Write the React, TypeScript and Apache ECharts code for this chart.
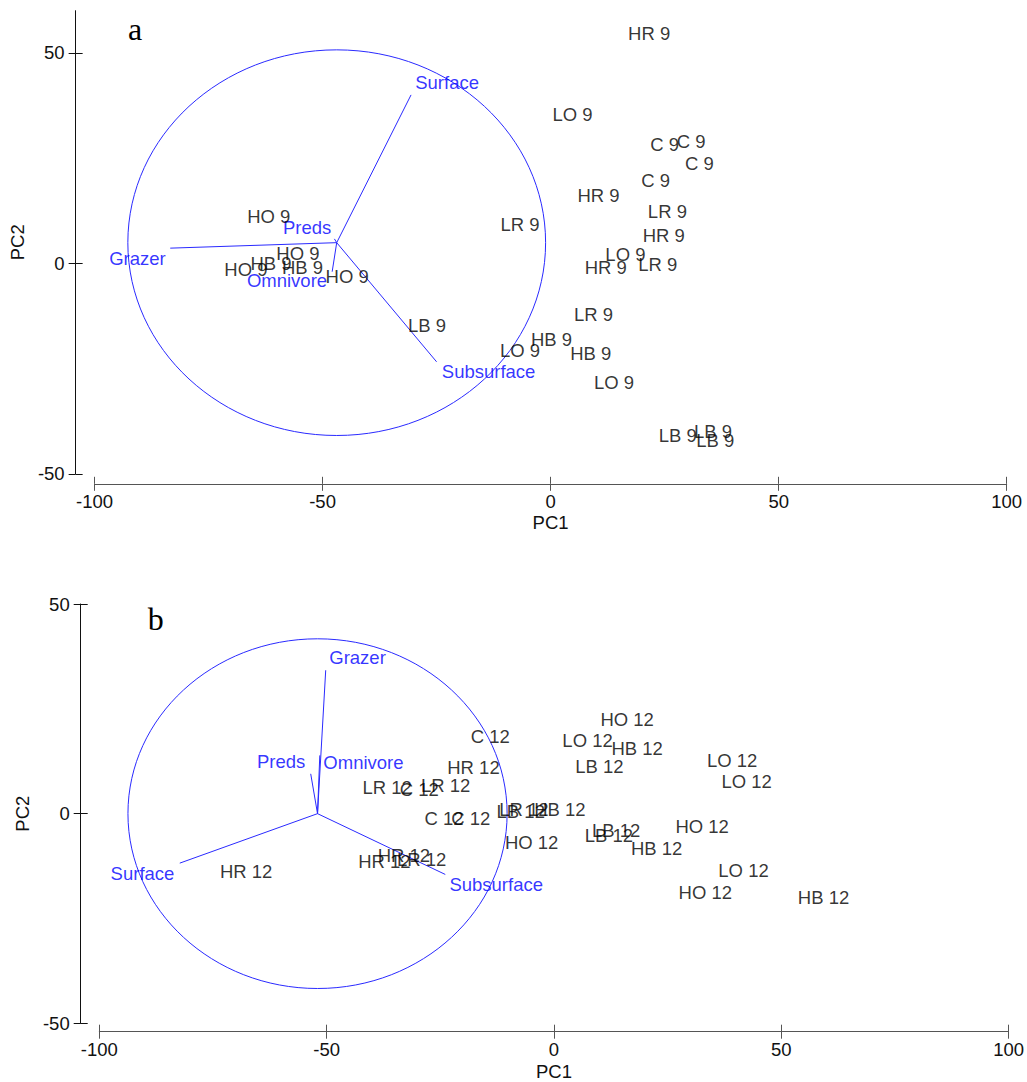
import { useEffect, useRef } from 'react';
import * as echarts from 'echarts';

// ---- Panel a: week 9 site scores (PC1, PC2), one array per treatment ----
const week9 = '9';
const hoA = [[-61.8, 11.1], [-55.4, 2.4], [-66.8, -1.4], [-44.6, -3.2]];
const hbA = [[-61.3, 0.0], [-54.4, -1.0], [0.2, -18.1], [8.8, -21.4]];
const lbA = [[-27.1, -14.7], [27.9, -40.8], [35.6, -40.0], [36.1, -42.1]];
const hrA = [[21.6, 54.6], [10.5, 16.0], [24.8, 6.6], [12.1, -0.9]];
const loA = [[4.8, 35.4], [16.4, 2.0], [-6.7, -20.8], [13.9, -28.4]];
const cA = [[25.0, 28.1], [30.8, 29.0], [32.6, 23.7], [23.0, 19.6]];
const lrA = [[25.6, 12.3], [-6.7, 9.3], [23.5, -0.3], [9.4, -12.1]];

// ---- Panel b: week 12 site scores ----
const week12 = '12';
const cB = [[-14.0, 18.3], [-29.6, 5.7], [-24.2, -1.2], [-18.3, -1.2]];
const hrB = [[-17.7, 11.0], [-67.7, -13.8], [-37.3, -11.5], [-33.0, -9.9]];
const lrB = [[-36.7, 6.2], [-23.8, 6.7], [-29.1, -11.0], [-6.6, 1.0]];
const lbB = [[10.0, 11.3], [-7.3, 0.4], [13.7, -4.1], [12.1, -5.2]];
const hbB = [[18.3, 15.5], [1.3, 1.0], [22.6, -8.3], [59.3, -20.0]];
const hoB = [[16.1, 22.5], [-4.9, -6.9], [32.6, -3.0], [33.3, -18.7]];
const loB = [[7.4, 17.5], [39.2, 12.7], [42.4, 7.7], [41.7, -13.5]];

// ---- Variable loadings (biplot vectors) ----
const variables = ['Surface', 'Grazer', 'Preds', 'Omnivore', 'Subsurface'];
const originA = [-46.9, 4.9];
const vecEndA = [[-30.6, 40.0], [-83.4, 3.6], [-47.4, 5.8], [-47.9, -2.0], [-25.0, -23.4]];
const vecLabelA = [[-22.7, 42.9], [-90.6, 1.2], [-53.4, 8.6], [-57.8, -4.0], [-13.6, -25.8]];
const radiusA = 45.8;

const originB = [-52.0, 0.0];
const vecEndB = [[-82.3, -11.8], [-50.2, 34.2], [-53.5, 9.5], [-51.5, 13.9], [-23.9, -14.5]];
const vecLabelB = [[-90.5, -14.2], [-43.2, 37.3], [-60.0, 12.5], [-41.9, 12.3], [-12.7, -16.9]];
const radiusB = 41.7;

// ---- Axis ticks ----
const xTicks = [-100, -50, 0, 50, 100];
const yTicks = [-50, 0, 50];
const yMaxA = 60;
const yMaxB = 50;

const FONT = '"Liberation Sans", Arial, Helvetica, sans-serif';
const TEXT = { fontFamily: FONT, fontSize: 18.5, color: '#111' };
const BLUE_TEXT = '#0000ff';
const BLUE_LINE = '#2a2aff';

function xAxesFor(gridIndex: number, offset: number, nameGap: number) {
  const common = {
    type: 'value', gridIndex, min: -100, max: 100, interval: 50,
    position: 'bottom', offset, splitLine: { show: false },
  };
  return [
    {
      ...common,
      name: 'PC1', nameLocation: 'middle', nameGap, nameTextStyle: TEXT,
      axisLine: { show: true, onZero: false, lineStyle: { color: '#555', width: 1 } },
      axisTick: { show: true, inside: false, length: 7, customValues: xTicks, lineStyle: { color: '#555' } },
      axisLabel: { ...TEXT, margin: 8, customValues: xTicks },
    },
    {
      ...common,
      axisLine: { show: false, onZero: false },
      axisTick: { show: true, inside: true, length: 7, customValues: xTicks, lineStyle: { color: '#555' } },
      axisLabel: { show: false },
    },
  ];
}

function yAxesFor(gridIndex: number, max: number, offset: number) {
  const common = {
    type: 'value', gridIndex, min: -50, max, interval: 50,
    position: 'left', offset, splitLine: { show: false },
  };
  return [
    {
      ...common,
      name: 'PC2', nameLocation: 'middle', nameGap: 46, nameTextStyle: TEXT,
      axisLine: { show: true, onZero: false, lineStyle: { color: '#111', width: 1 } },
      axisTick: { show: true, inside: false, length: 7, customValues: yTicks, lineStyle: { color: '#111' } },
      axisLabel: { ...TEXT, margin: 11, customValues: yTicks },
    },
    {
      ...common,
      axisLine: { show: false, onZero: false },
      axisTick: { show: true, inside: true, length: 7, customValues: yTicks, lineStyle: { color: '#111' } },
      axisLabel: { show: false },
    },
  ];
}

function siteSeries(axis: number, groups: [string, number[][]][], week: string) {
  const data: any[] = [];
  groups.forEach(([code, pts]) => {
    pts.forEach((p) => data.push({ value: p, name: `${code} ${week}` }));
  });
  return {
    type: 'scatter', xAxisIndex: axis, yAxisIndex: axis, silent: true, z: 5,
    symbolSize: 1, itemStyle: { color: 'rgba(0,0,0,0)' },
    label: { show: true, position: 'inside', formatter: '{b}', ...TEXT, color: '#000' },
    labelLayout: { hideOverlap: false },
    data,
  };
}

function vectorSeries(axis: number, origin: number[], ends: number[][]) {
  return {
    type: 'lines', coordinateSystem: 'cartesian2d', xAxisIndex: axis, yAxisIndex: axis,
    silent: true, z: 3, symbol: 'none',
    lineStyle: { color: BLUE_LINE, width: 1, opacity: 1 },
    data: ends.map((e) => ({ coords: [origin, e] })),
  };
}

function variableLabelSeries(axis: number, pos: number[][]) {
  return {
    type: 'scatter', xAxisIndex: axis, yAxisIndex: axis, silent: true, z: 4,
    symbolSize: 1, itemStyle: { color: 'rgba(0,0,0,0)' },
    label: { show: true, position: 'inside', formatter: '{b}', ...TEXT, color: BLUE_TEXT },
    data: pos.map((p, i) => ({ value: p, name: variables[i] })),
  };
}

function circleSeries(axis: number, origin: number[], radius: number) {
  return {
    type: 'custom', xAxisIndex: axis, yAxisIndex: axis, silent: true, z: 2, clip: false,
    data: [[origin[0], origin[1], radius]],
    renderItem: (_params: any, api: any) => {
      const c = api.coord([api.value(0), api.value(1)]);
      const r = api.value(2);
      const s = api.size([r, r]);
      return {
        type: 'ellipse',
        shape: { cx: c[0], cy: c[1], rx: s[0], ry: s[1] },
        style: { fill: 'none', stroke: BLUE_LINE, lineWidth: 1 },
      };
    },
  };
}

export default function App() {
  const ref = useRef<HTMLDivElement>(null);

  useEffect(() => {
    if (!ref.current) return;
    const chart = echarts.init(ref.current, undefined, { renderer: 'svg' });

    const option = {
      animation: false,
      backgroundColor: '#ffffff',
      grid: [
        { left: 91.9, top: 10.7, width: 914.8, height: 463.1, containLabel: false },
        { left: 99.3, top: 604, width: 913.4, height: 419.3, containLabel: false },
      ],
      xAxis: [...xAxesFor(0, 10, 29), ...xAxesFor(1, 8.4, 30)],
      yAxis: [...yAxesFor(0, yMaxA, 18.9), ...yAxesFor(1, yMaxB, 18.6)],
      graphic: [
        {
          type: 'text', x: 135, y: 28.5,
          style: { text: 'a', fontFamily: '"Liberation Serif", "Times New Roman", serif', fontSize: 32, fill: '#000', textAlign: 'center', textVerticalAlign: 'middle' },
        },
        {
          type: 'text', x: 155.7, y: 619,
          style: { text: 'b', fontFamily: '"Liberation Serif", "Times New Roman", serif', fontSize: 32, fill: '#000', textAlign: 'center', textVerticalAlign: 'middle' },
        },
      ],
      series: [
        circleSeries(0, originA, radiusA),
        vectorSeries(0, originA, vecEndA),
        variableLabelSeries(0, vecLabelA),
        siteSeries(0, [['HO', hoA], ['HB', hbA], ['LB', lbA], ['HR', hrA], ['LO', loA], ['C', cA], ['LR', lrA]], week9),

        circleSeries(2, originB, radiusB),
        vectorSeries(2, originB, vecEndB),
        variableLabelSeries(2, vecLabelB),
        siteSeries(2, [['C', cB], ['HR', hrB], ['LR', lrB], ['LB', lbB], ['HB', hbB], ['HO', hoB], ['LO', loB]], week12),
      ],
    };

    chart.setOption(option as any);
    return () => chart.dispose();
  }, []);

  return (
    <div
      ref={ref}
      style={{ position: 'absolute', left: 0, top: 0, width: 1027, height: 1082, background: '#fff' }}
    />
  );
}
